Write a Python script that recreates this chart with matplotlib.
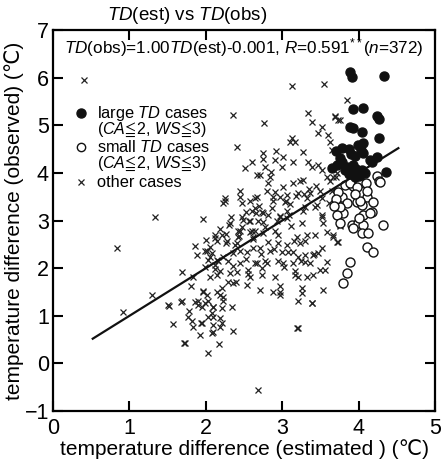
import numpy as np
import matplotlib
matplotlib.use('Agg')
import matplotlib.pyplot as plt

plt.rcParams['font.family'] = ['Liberation Sans', 'DejaVu Sans']
plt.rcParams['mathtext.fontset'] = 'custom'
plt.rcParams['mathtext.rm'] = 'Liberation Sans'
plt.rcParams['mathtext.it'] = 'Liberation Sans:italic'
plt.rcParams['mathtext.fallback'] = 'stix'

# large TD cases (CA<=2, WS<=3)
large_x = [3.89, 3.91, 4.33, 3.93, 4.06, 4.24, 4.27, 3.93, 4.04, 4.27, 3.78, 3.87,
           3.99, 4.06, 4.03, 3.95, 4.06, 4.15, 4.24, 3.78, 3.85, 3.93, 3.98, 4.04,
           4.08, 3.95, 4.02, 4.36, 4.18, 3.76, 3.65, 3.72, 3.89, 3.70, 3.82, 3.90,
           4.00, 3.87, 3.97]
large_y = [6.11, 6.01, 6.03, 5.34, 5.36, 5.19, 5.13, 4.94, 4.85, 4.73, 4.52, 4.50,
           4.58, 4.62, 4.47, 4.35, 4.41, 4.26, 4.33, 4.22, 4.12, 4.16, 4.01, 4.05,
           3.99, 3.91, 3.95, 4.01, 4.22, 4.31, 4.10, 4.16, 4.96, 4.45, 4.05, 4.40,
           3.93, 3.97, 4.08]

# small TD cases (CA<=2, WS<=3)
small_x = [3.82, 3.93, 4.02, 4.10, 4.24, 4.27, 3.78, 3.85, 3.98, 4.04, 4.11, 4.19,
           3.80, 4.06, 4.18, 3.91, 3.99, 4.06, 4.04, 4.12, 4.32, 4.11, 4.19, 3.89,
           3.85, 3.80, 3.73, 3.76, 3.72, 3.89, 4.15, 3.93, 4.28, 3.98, 4.11, 4.02,
           3.70, 3.68, 3.95, 4.00, 3.75]
small_y = [3.74, 3.72, 3.78, 3.78, 3.93, 3.84, 3.49, 3.36, 3.38, 3.32, 3.49, 3.38,
           3.15, 3.11, 3.17, 2.90, 2.94, 2.90, 2.73, 2.73, 2.90, 2.44, 2.33, 2.12,
           1.89, 1.68, 3.59, 3.28, 3.11, 3.78, 3.15, 2.84, 3.80, 3.70, 3.63, 3.42,
           3.45, 3.30, 3.55, 3.05, 2.95]

# other cases
other_x = [0.41, 1.34, 1.96, 0.84, 0.92, 1.30, 1.52, 1.68, 1.57, 1.71, 2.03, 2.17,
           1.69, 1.83, 1.86, 2.68, 3.19, 3.39,
           2.36, 2.41, 2.60, 2.51, 2.67, 2.45, 2.25, 2.23, 2.45,
           3.13, 3.55, 3.85, 3.34, 3.39, 2.76, 3.69, 3.73, 3.52, 3.47, 3.13, 3.17,
           3.10, 3.27, 3.60, 3.63, 3.65, 2.75, 2.92, 3.01, 2.91, 2.77, 3.00, 3.14,
           3.34, 3.39, 3.47, 3.52, 2.84, 3.59, 3.70, 3.23, 3.27, 3.14, 2.81, 3.01,
           3.63, 2.80, 2.91, 3.06, 3.21, 3.36, 3.49, 3.52, 2.67, 2.88, 2.97, 2.64,
           3.06, 3.30, 3.43, 3.61, 2.97, 3.52,
           2.47, 2.58, 2.12, 2.21, 2.15, 2.28, 2.42, 2.45, 2.41, 2.58, 2.62, 2.02,
           2.08, 2.03, 2.16, 2.23, 2.29, 2.36, 2.45, 2.54, 2.45, 2.64, 1.99, 2.12,
           2.19, 2.15, 2.05, 2.41, 2.58, 2.29, 2.36, 2.21, 2.54, 1.96, 2.02, 2.03,
           2.19, 2.23, 1.51, 1.69, 1.86, 1.90, 1.95, 2.09, 2.21, 1.77, 1.82, 2.03,
           2.09, 2.19, 1.95, 1.83, 2.19, 2.09, 2.08, 2.36, 1.92, 1.73,
           2.75, 2.97, 3.06, 3.26, 3.52, 3.53, 3.76, 3.59, 3.66, 3.73, 2.75, 2.64,
           2.75, 2.95, 3.19, 3.43, 2.81, 2.95, 3.06, 3.23, 3.30, 2.62, 2.71, 2.84,
           3.00, 3.08, 3.14, 3.21, 3.30, 3.40, 3.47, 3.52, 2.77, 2.80, 2.67, 2.95,
           3.01, 3.14, 3.30, 3.36, 3.59, 2.74, 3.17, 3.49, 3.56, 2.74, 2.91, 3.17,
           3.21, 3.32, 3.40, 2.71, 2.88, 2.97, 2.97, 2.97, 3.26, 3.26, 3.21, 3.39,
           3.53, 3.21,
           2.25, 2.47, 2.58, 2.64, 2.60, 2.74, 2.12, 2.42, 1.99, 2.05, 2.14, 1.96,
           2.14, 2.22, 1.99, 2.10, 1.94, 2.10, 2.21, 2.34, 2.71, 2.85, 2.75,
           3.69, 3.66, 3.72, 3.65, 3.73, 3.76, 3.66, 3.72, 3.76,
           2.33, 2.52, 2.70, 2.88, 3.05, 3.28, 3.44, 2.30, 2.56, 2.82, 3.10, 3.33,
           2.38, 2.62, 2.90, 3.12, 1.88, 2.00, 2.26, 2.48, 2.68, 1.80, 2.32, 2.55,
           2.18, 2.31, 2.49, 2.66, 2.86, 3.03, 3.18, 3.35, 2.06, 2.27, 2.44, 2.60,
           2.78, 2.93, 3.09, 3.27, 3.45, 2.12, 2.35, 2.53, 2.72, 2.89, 3.15, 3.32,
           1.78, 1.90, 2.08, 2.40, 2.55, 3.02, 3.25, 3.42]
other_y = [5.95, 3.07, 3.03, 2.42, 1.07, 1.43, 1.20, 1.28, 0.82, 0.42, 0.21, 0.40,
           1.91, 1.81, 2.46, -0.55, 0.74, 1.26,
           5.21, 4.54, 4.22, 4.10, 3.95, 3.63, 3.47, 3.36, 3.49,
           5.82, 5.86, 5.53, 5.25, 5.06, 5.04, 5.19, 5.11, 4.96, 4.83, 4.73, 4.64,
           4.64, 4.43, 4.79, 4.64, 4.47, 4.41, 4.45, 4.33, 4.26, 4.12, 4.12, 4.22,
           4.22, 4.12, 4.16, 4.05, 3.91, 3.91, 3.91, 3.84, 3.86, 3.78, 3.78, 3.70,
           3.84, 3.63, 3.59, 3.53, 3.57, 3.57, 3.63, 3.47, 3.49, 3.49, 3.49, 3.26,
           3.21, 3.28, 3.28, 3.36, 3.07, 3.07,
           3.07, 3.00, 2.69, 2.69, 2.58, 2.58, 2.65, 2.79, 2.52, 2.75, 2.65, 2.37,
           2.31, 2.18, 2.16, 2.23, 2.16, 2.31, 2.37, 2.33, 2.10, 2.10, 2.02, 2.06,
           1.95, 1.85, 1.81, 1.91, 1.81, 1.70, 1.68, 1.58, 1.64, 1.49, 1.43, 1.32,
           1.43, 1.32, 1.22, 1.32, 1.28, 1.22, 1.18, 1.18, 1.16, 0.97, 0.90, 0.97,
           0.97, 0.95, 0.84, 0.76, 0.76, 0.65, 0.63, 0.69, 0.59, 0.42,
           3.15, 3.09, 3.05, 2.94, 3.11, 2.94, 2.88, 2.75, 2.65, 2.54, 2.96, 2.79,
           2.73, 2.69, 2.65, 2.69, 2.54, 2.52, 2.48, 2.52, 2.58, 2.42, 2.42, 2.35,
           2.33, 2.33, 2.33, 2.23, 2.27, 2.27, 2.31, 2.42, 2.16, 2.10, 2.10, 2.16,
           2.10, 2.10, 2.12, 2.10, 2.12, 2.00, 1.95, 1.97, 1.97, 1.85, 1.81, 1.85,
           1.81, 1.81, 1.85, 1.55, 1.49, 1.62, 1.49, 1.43, 1.58, 1.47, 1.32, 1.26,
           1.55, 0.74,
           3.42, 3.36, 3.42, 3.47, 3.21, 3.17, 2.63, 2.79, 2.37, 2.23, 2.18, 1.53,
           1.49, 1.40, 1.26, 1.18, 0.84, 0.80, 0.84, 1.18, 3.95, 4.02, 4.30,
           5.17, 3.91, 3.99, 3.63, 3.32, 2.90, 2.69, 2.54, 5.10,
           3.08, 3.18, 3.30, 3.42, 3.40, 3.55, 3.72, 2.90, 2.98, 3.12, 3.35, 3.48,
           2.48, 2.62, 2.78, 2.88, 2.28, 2.60, 2.72, 2.86, 2.98, 1.62, 1.90, 1.96,
           2.82, 2.94, 3.02, 3.15, 3.26, 3.38, 3.52, 3.66, 2.44, 2.52, 2.68, 2.77,
           2.86, 3.00, 3.11, 3.20, 3.33, 1.98, 2.05, 2.20, 2.30, 2.40, 2.58, 2.70,
           1.10, 1.30, 1.05, 1.70, 1.88, 2.02, 2.15, 2.30]

fit_x = np.array([0.52, 4.52])
fit_y = 1.00 * fit_x - 0.001

fig = plt.figure(figsize=(4.47, 4.73), dpi=100)
ax = fig.add_axes([0.1186, 0.131, 0.8546, 0.8056])

ax.plot(other_x, other_y, 'x', color='#222222', markersize=4.5, mew=0.9, zorder=2)
ax.plot(small_x, small_y, 'o', mfc='white', mec='#111111', markersize=6.5, mew=1.0, zorder=3)
ax.plot(large_x, large_y, 'o', color='#111111', markersize=6.5, zorder=4)
ax.plot(fit_x, fit_y, '-', color='#111111', lw=1.6, zorder=5)

ax.set_xlim(0, 5)
ax.set_ylim(-1, 7)
ax.set_xticks(range(0, 6))
ax.set_yticks(range(-1, 8))
ax.tick_params(direction='in', length=7, width=1.5, top=True, right=True,
               labelsize=15.5)
ax.tick_params(axis='x', pad=5)
ax.tick_params(axis='y', pad=3)
for s in ax.spines.values():
    s.set_linewidth(1.6)

ax.set_xlabel('temperature difference (estimated ) (\u2103)', fontsize=15, labelpad=0)
ax.set_ylabel('temperature difference (observed) (\u2103)', fontsize=15, labelpad=0)

fig.text(0.24, 0.967, r'$\it{TD}$(est) vs $\it{TD}$(obs)', fontsize=13.5, va='center')
ax.text(0.03, 0.955, r'$\it{TD}$(obs)=1.00$\it{TD}$(est)-0.001, $\it{R}$=0.591$^{**}$($\it{n}$=372)',
        transform=ax.transAxes, fontsize=12.3, va='center')

# legend
lx, tx = 0.073, 0.115
cond = r'($\it{CA}$$\!\leqq\!$2, $\it{WS}$$\!\leqq\!$3)'
ax.plot([lx], [0.782], 'o', color='#111111', markersize=6.5, transform=ax.transAxes)
ax.text(tx, 0.782, r'large $\it{TD}$ cases', transform=ax.transAxes, fontsize=11.8, va='center')
ax.text(tx, 0.737, cond, transform=ax.transAxes, fontsize=11.5, va='center')
ax.plot([lx], [0.693], 'o', mfc='white', mec='#111111', markersize=6, mew=1.0, transform=ax.transAxes)
ax.text(tx, 0.693, r'small $\it{TD}$ cases', transform=ax.transAxes, fontsize=11.8, va='center')
ax.text(tx, 0.648, cond, transform=ax.transAxes, fontsize=11.5, va='center')
ax.plot([lx], [0.601], 'x', color='#222222', markersize=4.5, mew=0.9, transform=ax.transAxes)
ax.text(tx, 0.601, 'other cases', transform=ax.transAxes, fontsize=11.8, va='center')

fig.savefig('out.png', dpi=100)
